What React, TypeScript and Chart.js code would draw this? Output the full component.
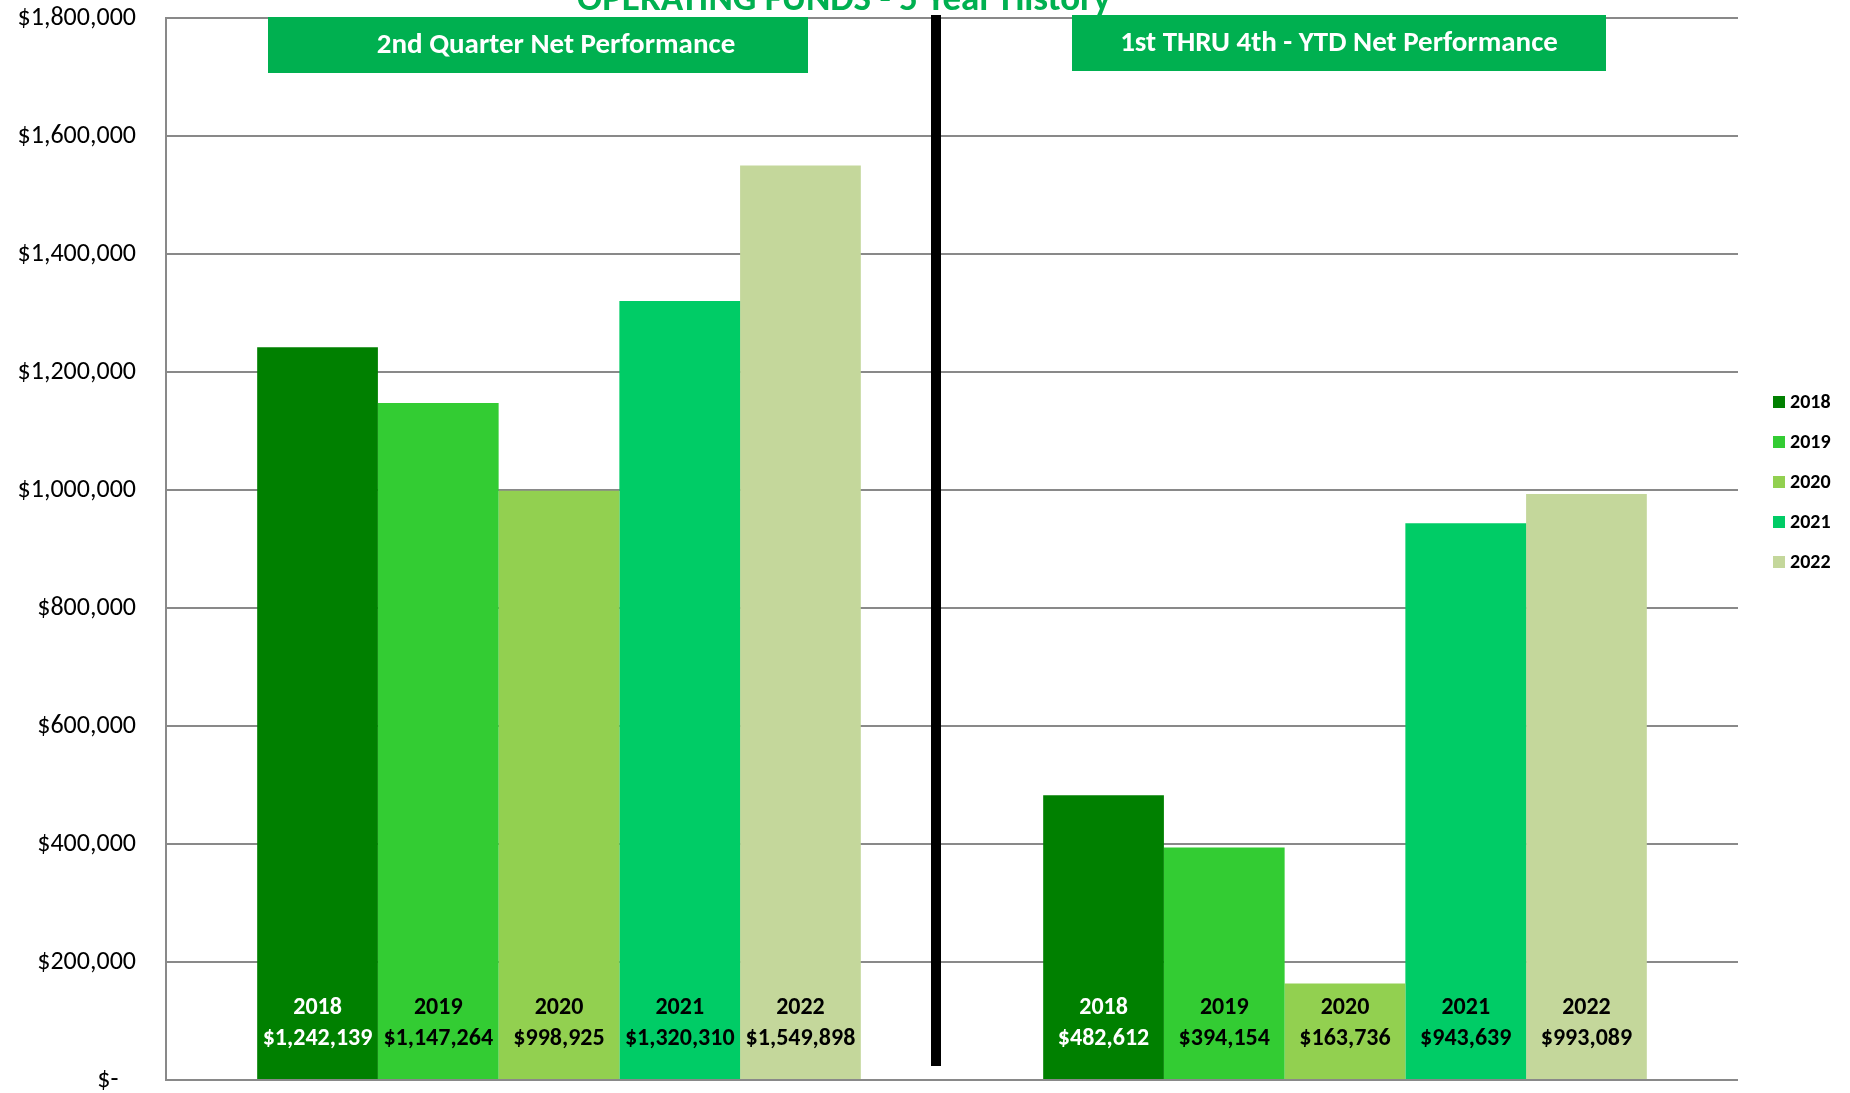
import React, { useEffect, useRef } from 'react';
import { Chart, registerables } from 'chart.js';

Chart.register(...registerables);

const categories = ['2nd Quarter Net Performance', '1st THRU 4th - YTD Net Performance'];
const seriesLabels = ['2018', '2019', '2020', '2021', '2022'];
const values2018 = [1242139, 482612];
const values2019 = [1147264, 394154];
const values2020 = [998925, 163736];
const values2021 = [1320310, 943639];
const values2022 = [1549898, 993089];
const seriesValues = [values2018, values2019, values2020, values2021, values2022];
const seriesColors = ['#008000', '#33CC33', '#92D050', '#00CC66', '#C4D79B'];
const labelTextColors = ['#FFFFFF', '#000000', '#000000', '#000000', '#000000'];
const yTickLabels = ['$-', '$200,000', '$400,000', '$600,000', '$800,000', '$1,000,000', '$1,200,000', '$1,400,000', '$1,600,000', '$1,800,000'];
const chartTitle = 'OPERATING FUNDS - 5 Year History';

const FONT = "Carlito, Calibri, 'Liberation Sans Narrow', 'Open Sans', sans-serif";
const GRID = '#898989';
const HEADER_GREEN = '#00B050';

const money = (v: number) => '$' + v.toLocaleString('en-US');

const decorPlugin = {
  id: 'decor',
  afterDatasetsDraw(chart: any) {
    const ctx = chart.ctx;
    ctx.save();
    chart.data.datasets.forEach((ds: any, i: number) => {
      const meta = chart.getDatasetMeta(i);
      meta.data.forEach((el: any, j: number) => {
        const p = el.getProps(['x', 'base'], true);
        ctx.fillStyle = labelTextColors[i];
        ctx.font = `bold 24px ${FONT}`;
        ctx.textAlign = 'center';
        ctx.textBaseline = 'middle';
        ctx.fillText(ds.label, p.x, p.base - 71);
        ctx.fillText(money(ds.data[j]), p.x, p.base - 40);
      });
    });
    ctx.restore();
  },
  afterDraw(chart: any) {
    const ctx = chart.ctx;
    ctx.save();
    // title (mostly cut off at top)
    ctx.fillStyle = HEADER_GREEN;
    ctx.font = `bold 37px ${FONT}`;
    ctx.textAlign = 'center';
    ctx.textBaseline = 'alphabetic';
    ctx.fillText(chartTitle, 844, 10);

    // divider
    ctx.fillStyle = '#000000';
    ctx.fillRect(931, 15, 10, 1051);

    // header boxes
    const boxes = [
      { x0: 268, x1: 808, y0: 17, y1: 73, size: 29, tx: 556 },
      { x0: 1072, x1: 1606, y0: 15, y1: 71, size: 29, tx: 1339 },
    ];
    boxes.forEach((b, i) => {
      ctx.fillStyle = HEADER_GREEN;
      ctx.fillRect(b.x0, b.y0, b.x1 - b.x0, b.y1 - b.y0);
      ctx.fillStyle = '#FFFFFF';
      ctx.font = `bold ${b.size}px ${FONT}`;
      ctx.textAlign = 'center';
      ctx.textBaseline = 'middle';
      ctx.fillText(categories[i], b.tx, (b.y0 + b.y1) / 2 + 1);
    });

    // legend
    chart.data.datasets.forEach((ds: any, i: number) => {
      const cy = 402 + i * 40;
      ctx.fillStyle = ds.backgroundColor;
      ctx.fillRect(1773, cy - 6, 12, 12);
      ctx.fillStyle = '#000000';
      ctx.font = `bold 20px ${FONT}`;
      ctx.textAlign = 'left';
      ctx.textBaseline = 'middle';
      ctx.fillText(ds.label, 1790, cy + 1);
    });
    ctx.restore();
  },
};

export default function App() {
  const ref = useRef<HTMLCanvasElement>(null);
  useEffect(() => {
    if (!ref.current) return;
    const chart = new Chart(ref.current, {
      type: 'bar',
      data: {
        labels: categories,
        datasets: seriesLabels.map((l, i) => ({
          label: l,
          data: seriesValues[i],
          backgroundColor: seriesColors[i],
          borderWidth: 0,
          barPercentage: 1,
          categoryPercentage: 0.768,
        })),
      },
      options: {
        responsive: false,
        animation: false,
        devicePixelRatio: 1,
        layout: { padding: { top: 18, bottom: 13, left: 0, right: 112 } },
        plugins: {
          legend: { display: false },
          title: { display: false },
          tooltip: { enabled: false },
        },
        scales: {
          x: { display: false },
          y: {
            min: 0,
            max: 1800000,
            ticks: {
              stepSize: 200000,
              padding: 30,
              color: '#000000',
              font: { family: FONT, size: 26, lineHeight: 1 },
              callback: (_v: any, idx: number) => (idx === 0 ? yTickLabels[idx] + '\u00A0\u00A0\u00A0' : yTickLabels[idx]),
            },
            grid: { color: GRID, lineWidth: 2, drawTicks: false },
            border: { display: true, color: GRID, width: 2 },
            afterFit: (scale: any) => {
              scale.width = 166;
              scale.paddingTop = 0;
              scale.paddingBottom = 0;
            },
          },
        },
      },
      plugins: [decorPlugin],
    });
    return () => chart.destroy();
  }, []);
  return (
    <div style={{ position: 'fixed', left: 0, top: 0, width: 1850, height: 1093, background: '#fff' }}>
      <canvas ref={ref} width={1850} height={1093} />
    </div>
  );
}
